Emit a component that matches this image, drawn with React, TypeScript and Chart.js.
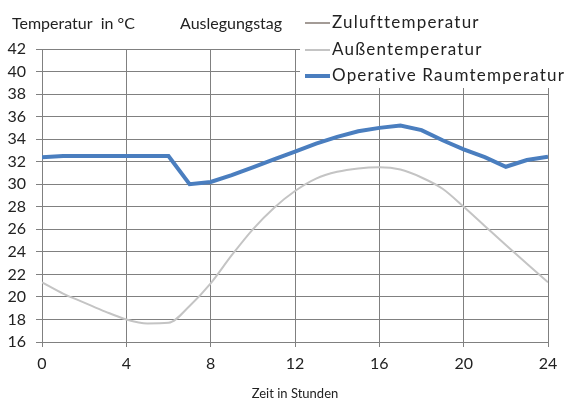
import React, { useEffect, useRef } from "react";
import { Chart, registerables } from "chart.js";
Chart.register(...registerables);

const hours = [0, 1, 2, 3, 4, 5, 6, 7, 8, 9, 10, 11, 12, 13, 14, 15, 16, 17, 18, 19, 20, 21, 22, 23, 24];
const operativeRaum = [32.4, 32.5, 32.5, 32.5, 32.5, 32.5, 32.5, 30.0, 30.2, 30.8, 31.5, 32.2, 32.9, 33.6, 34.2, 34.7, 35.0, 35.2, 34.8, 33.9, 33.1, 32.4, 31.55, 32.15, 32.45];
const aussen = [21.3, 20.3, 19.5, 18.7, 18.0, 17.65, 17.7, 19.2, 21.2, 23.7, 26.0, 27.9, 29.4, 30.5, 31.1, 31.4, 31.5, 31.3, 30.6, 29.6, 28.0, 26.3, 24.6, 22.95, 21.3];
const zuluft: (number | null)[] = [];
const seriesLabels = ["Zulufttemperatur", "Außentemperatur", "Operative Raumtemperatur"];
const seriesColors = ["#a39b96", "#c4c4c4", "#4a7ebf"];
const seriesWidths = [2, 2, 4];
const xTicks = [0, 4, 8, 12, 16, 20, 24];
const yMin = 16;
const yMax = 42;
const yAxisTitle = "Temperatur  in °C";
const chartTitle = "Auslegungstag";
const xAxisTitle = "Zeit in Stunden";

const FONT = "Lato, 'Open Sans', sans-serif";
const GRID = "#808080";

function toPoints(vals: (number | null)[]) {
  return vals.map((v, i) => ({ x: hours[i], y: v }));
}

const overlay = {
  id: "overlay",
  afterDraw(chart: any) {
    const ctx = chart.ctx;
    ctx.save();
    ctx.fillStyle = "#ffffff";
    ctx.fillRect(300, 0, 273, 88);
    ctx.textBaseline = "middle";
    ctx.textAlign = "left";
    ctx.font = `17px ${FONT}`;
    try { (ctx as any).letterSpacing = "1.2px"; } catch (e) {}
    const ys = [23, 50, 76];
    chart.data.datasets.forEach((ds: any, i: number) => {
      ctx.strokeStyle = ds.borderColor;
      ctx.lineWidth = ds.borderWidth;
      ctx.beginPath();
      ctx.moveTo(305, ys[i]);
      ctx.lineTo(330, ys[i]);
      ctx.stroke();
      ctx.fillStyle = "#222";
      ctx.fillText(ds.label, 332, ys[i]);
    });
    try { (ctx as any).letterSpacing = "0px"; } catch (e) {}
    ctx.font = `16px ${FONT}`;
    ctx.fillStyle = "#222";
    ctx.fillText(yAxisTitle, 12, 24);
    ctx.fillText(chartTitle, 180, 24);
    ctx.restore();
  },
};

export default function App() {
  const ref = useRef<HTMLCanvasElement>(null);
  useEffect(() => {
    const series = [zuluft, aussen, operativeRaum];
    const chart = new Chart(ref.current!, {
      type: "line",
      data: {
        datasets: series.map((s, i) => ({
          label: seriesLabels[i],
          data: toPoints(s),
          borderColor: seriesColors[i],
          backgroundColor: seriesColors[i],
          borderWidth: seriesWidths[i],
          pointRadius: 0,
          tension: i === 1 ? 0.4 : 0,
          cubicInterpolationMode: i === 1 ? "monotone" : "default",
          order: 2 - i,
        })),
      },
      options: {
        animation: false,
        responsive: false,
        layout: { padding: { top: 49, right: 25, left: 0, bottom: 0 } },
        plugins: { legend: { display: false }, tooltip: { enabled: false } },
        scales: {
          x: {
            type: "linear",
            min: 0,
            max: 24,
            afterBuildTicks: (s: any) => {
              s.ticks = xTicks.map((v) => ({ value: v }));
            },
            afterFit: (s: any) => {
              s.height = 61;
            },
            ticks: { color: "#222", font: { family: FONT, size: 16 }, padding: 7 },
            grid: { color: GRID, lineWidth: 1, tickLength: 5, tickColor: GRID },
            border: { color: GRID },
            title: { display: true, text: xAxisTitle, color: "#222", font: { family: FONT, size: 13 }, padding: { top: 0, bottom: 1 } },
          },
          y: {
            min: yMin,
            max: yMax,
            ticks: {
              stepSize: 1,
              color: "#222",
              font: { family: FONT, size: 16 },
              padding: 10,
              callback: (v: any) => (Number(v) % 2 === 0 ? String(v) : ""),
            },
            afterFit: (s: any) => {
              s.width = 42;
            },
            grid: {
              color: GRID,
              lineWidth: 1,
              tickLength: 6,
              tickColor: (c: any) => (c.tick && c.tick.value % 2 === 0 ? GRID : "rgba(0,0,0,0)"),
            },
            border: { color: GRID },
          },
        },
      },
      plugins: [overlay],
    } as any);
    return () => chart.destroy();
  }, []);
  return (
    <div style={{ position: "absolute", left: 0, top: 0, width: 573, height: 403, background: "#fff" }}>
      <canvas ref={ref} width={573} height={403} />
    </div>
  );
}
